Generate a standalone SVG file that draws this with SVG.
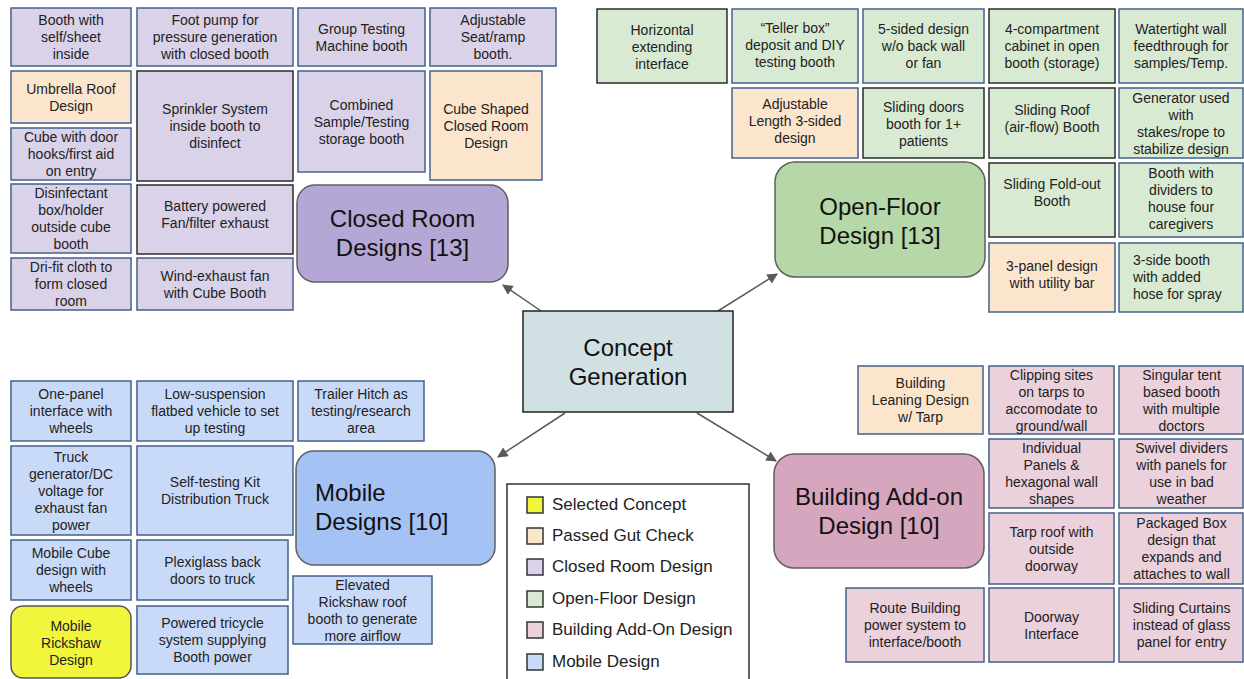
<svg xmlns="http://www.w3.org/2000/svg" width="1244" height="679" viewBox="0 0 1244 679">
<defs>
<style>
text{font-family:"Liberation Sans",Arial,sans-serif;fill:#222;}
.t{font-size:14px;text-anchor:middle;}
.tl{font-size:14px;text-anchor:start;}
.big{font-size:24px;text-anchor:middle;fill:#111;}
.bigl{font-size:24px;text-anchor:start;fill:#111;}
.lg{font-size:17px;fill:#222;}
rect{stroke-width:1.5;}
.b{stroke:#43608f;}
.d{stroke:#2b2b2b;}
.cr{fill:#d9d2e9;}
.of{fill:#d9ead3;}
.mb{fill:#c9daf8;}
.ba{fill:#ead1dc;}
.pk{fill:#fce5cd;}
.yl{fill:#f1f53c;}
.cat{stroke:#5f5f5f;}
.conn{stroke:#595959;stroke-width:1.5;fill:none;marker-end:url(#ah);}
</style>
<marker id="ah" viewBox="0 0 10 10" refX="9" refY="5" markerWidth="8" markerHeight="7" orient="auto" markerUnits="strokeWidth">
<path d="M0,0 L10,5 L0,10 z" fill="#595959"/>
</marker>
</defs>
<rect width="1244" height="679" fill="#ffffff" stroke="none"/>

<g id="connectors">
<line class="conn" x1="541" y1="311" x2="503" y2="285"/>
<line class="conn" x1="718" y1="311" x2="777" y2="274"/>
<line class="conn" x1="565" y1="413" x2="498" y2="457"/>
<line class="conn" x1="697" y1="413" x2="776" y2="461"/>
</g>

<g id="concept-generation">
<rect x="523" y="311" width="210" height="101" fill="#d0e0e3" stroke="#222"/>
<text class="big"><tspan x="628" y="356">Concept</tspan><tspan x="628" y="385">Generation</tspan></text>
</g>

<!-- Closed room -->
<g id="closed-room-designs">
<rect x="297" y="185" width="211" height="97" rx="18" fill="#b4a7d6" class="cat"/>
<text class="big"><tspan x="402.5" y="227">Closed Room</tspan><tspan x="402.5" y="256">Designs [13]</tspan></text>
</g>
<g id="cr-booth-self"><rect x="11" y="8" width="120" height="58" class="cr b"/>
<text class="t"><tspan x="71" y="25">Booth with</tspan><tspan x="71" y="42">self/sheet</tspan><tspan x="71" y="59">inside</tspan></text></g>
<g id="cr-foot-pump"><rect x="137" y="8" width="156" height="58" class="cr b"/>
<text class="t"><tspan x="215" y="25">Foot pump for</tspan><tspan x="215" y="42">pressure generation</tspan><tspan x="215" y="59">with closed booth</tspan></text></g>
<g id="cr-group-testing"><rect x="298" y="8" width="127" height="58" class="cr b"/>
<text class="t"><tspan x="361.5" y="33.5">Group Testing</tspan><tspan x="361.5" y="50.5">Machine booth</tspan></text></g>
<g id="cr-adjustable-seat"><rect x="430" y="8" width="126" height="58" class="cr b"/>
<text class="t"><tspan x="493" y="25">Adjustable</tspan><tspan x="493" y="42">Seat/ramp</tspan><tspan x="493" y="59">booth.</tspan></text></g>
<g id="cr-umbrella"><rect x="11" y="71" width="120" height="52" class="pk b"/>
<text class="t"><tspan x="71" y="93.5">Umbrella Roof</tspan><tspan x="71" y="110.5">Design</tspan></text></g>
<g id="cr-sprinkler"><rect x="137" y="71" width="156" height="110" class="cr d"/>
<text class="t"><tspan x="215" y="114">Sprinkler System</tspan><tspan x="215" y="131">inside booth to</tspan><tspan x="215" y="148">disinfect</tspan></text></g>
<g id="cr-combined"><rect x="298" y="71" width="127" height="101" class="cr b"/>
<text class="t"><tspan x="361.5" y="109.5">Combined</tspan><tspan x="361.5" y="126.5">Sample/Testing</tspan><tspan x="361.5" y="143.5">storage booth</tspan></text></g>
<g id="cr-cube-shaped"><rect x="430" y="71" width="112" height="109" class="pk b"/>
<text class="t"><tspan x="486" y="113.5">Cube Shaped</tspan><tspan x="486" y="130.5">Closed Room</tspan><tspan x="486" y="147.5">Design</tspan></text></g>
<g id="cr-cube-door"><rect x="11" y="128" width="120" height="52" class="cr b"/>
<text class="t"><tspan x="71" y="142">Cube with door</tspan><tspan x="71" y="159">hooks/first aid</tspan><tspan x="71" y="176">on entry</tspan></text></g>
<g id="cr-disinfectant"><rect x="11" y="184" width="120" height="69" class="cr b"/>
<text class="t"><tspan x="71" y="198">Disinfectant</tspan><tspan x="71" y="215">box/holder</tspan><tspan x="71" y="232">outside cube</tspan><tspan x="71" y="249">booth</tspan></text></g>
<g id="cr-battery"><rect x="137" y="185" width="156" height="69" class="cr d"/>
<text class="t"><tspan x="215" y="211">Battery powered</tspan><tspan x="215" y="228">Fan/filter exhaust</tspan></text></g>
<g id="cr-drifit"><rect x="11" y="258" width="120" height="52" class="cr b"/>
<text class="t"><tspan x="71" y="272">Dri-fit cloth to</tspan><tspan x="71" y="289">form closed</tspan><tspan x="71" y="306">room</tspan></text></g>
<g id="cr-wind"><rect x="137" y="258" width="156" height="52" class="cr b"/>
<text class="t"><tspan x="215" y="280.5">Wind-exhaust fan</tspan><tspan x="215" y="297.5">with Cube Booth</tspan></text></g>

<!-- Open floor -->
<g id="open-floor-design">
<rect x="775" y="162" width="210" height="115" rx="20" fill="#b6d7a8" class="cat"/>
<text class="big"><tspan x="880" y="215">Open-Floor</tspan><tspan x="880" y="244">Design [13]</tspan></text>
</g>
<g id="of-horizontal"><rect x="597" y="9" width="130" height="74" class="of d"/>
<text class="t"><tspan x="662" y="35">Horizontal</tspan><tspan x="662" y="52">extending</tspan><tspan x="662" y="69">interface</tspan></text></g>
<g id="of-teller"><rect x="732" y="9" width="126" height="74" class="of b"/>
<text class="t"><tspan x="795" y="33">“Teller box”</tspan><tspan x="795" y="50">deposit and DIY</tspan><tspan x="795" y="67">testing booth</tspan></text></g>
<g id="of-5sided"><rect x="863" y="9" width="121" height="74" class="of b"/>
<text class="t"><tspan x="923.5" y="34">5-sided design</tspan><tspan x="923.5" y="51">w/o back wall</tspan><tspan x="923.5" y="68">or fan</tspan></text></g>
<g id="of-4comp"><rect x="989" y="9" width="126" height="74" class="of d"/>
<text class="t"><tspan x="1052" y="34">4-compartment</tspan><tspan x="1052" y="51">cabinet in open</tspan><tspan x="1052" y="68">booth (storage)</tspan></text></g>
<g id="of-watertight"><rect x="1119" y="9" width="124" height="74" class="of b"/>
<text class="t"><tspan x="1181" y="34">Watertight wall</tspan><tspan x="1181" y="51">feedthrough for</tspan><tspan x="1181" y="68">samples/Temp.</tspan></text></g>
<g id="of-adj-length"><rect x="732" y="88" width="126" height="70" class="pk b"/>
<text class="t"><tspan x="795" y="109">Adjustable</tspan><tspan x="795" y="126">Length 3-sided</tspan><tspan x="795" y="143">design</tspan></text></g>
<g id="of-sliding-doors"><rect x="863" y="88" width="121" height="70" class="of d"/>
<text class="t"><tspan x="923.5" y="112">Sliding doors</tspan><tspan x="923.5" y="129">booth for 1+</tspan><tspan x="923.5" y="146">patients</tspan></text></g>
<g id="of-sliding-roof"><rect x="989" y="88" width="126" height="70" class="of d"/>
<text class="t"><tspan x="1052" y="115">Sliding Roof</tspan><tspan x="1052" y="132">(air-flow) Booth</tspan></text></g>
<g id="of-generator"><rect x="1119" y="88" width="124" height="70" class="of b"/>
<text class="t"><tspan x="1181" y="102.5">Generator used</tspan><tspan x="1181" y="119.5">with</tspan><tspan x="1181" y="136.5">stakes/rope to</tspan><tspan x="1181" y="153.5">stabilize design</tspan></text></g>
<g id="of-foldout"><rect x="989" y="163" width="126" height="74" class="of d"/>
<text class="t"><tspan x="1052" y="189">Sliding Fold-out</tspan><tspan x="1052" y="206">Booth</tspan></text></g>
<g id="of-dividers"><rect x="1119" y="163" width="124" height="74" class="of b"/>
<text class="t"><tspan x="1181" y="178">Booth with</tspan><tspan x="1181" y="195">dividers to</tspan><tspan x="1181" y="212">house four</tspan><tspan x="1181" y="229">caregivers</tspan></text></g>
<g id="of-3panel"><rect x="989" y="243" width="126" height="69" class="pk b"/>
<text class="t"><tspan x="1052" y="271">3-panel design</tspan><tspan x="1052" y="288">with utility bar</tspan></text></g>
<g id="of-3side"><rect x="1119" y="243" width="124" height="69" class="of b"/>
<text class="tl"><tspan x="1133" y="265">3-side booth</tspan><tspan x="1133" y="282">with added</tspan><tspan x="1133" y="299">hose for spray</tspan></text></g>

<!-- Mobile -->
<g id="mobile-designs">
<rect x="296" y="451" width="199" height="114" rx="18" fill="#a4c2f4" class="cat"/>
<text class="bigl"><tspan x="315" y="501">Mobile</tspan><tspan x="315" y="530">Designs [10]</tspan></text>
</g>
<g id="mb-one-panel"><rect x="11" y="381" width="120" height="60" class="mb b"/>
<text class="t"><tspan x="71" y="399">One-panel</tspan><tspan x="71" y="416">interface with</tspan><tspan x="71" y="433">wheels</tspan></text></g>
<g id="mb-low-susp"><rect x="137" y="381" width="156" height="60" class="mb b"/>
<text class="t"><tspan x="215" y="399">Low-suspension</tspan><tspan x="215" y="416">flatbed vehicle to set</tspan><tspan x="215" y="433">up testing</tspan></text></g>
<g id="mb-trailer"><rect x="298" y="381" width="126" height="60" class="mb b"/>
<text class="t"><tspan x="361" y="399">Trailer Hitch as</tspan><tspan x="361" y="416">testing/research</tspan><tspan x="361" y="433">area</tspan></text></g>
<g id="mb-truck-gen"><rect x="11" y="446" width="120" height="89" class="mb b"/>
<text class="t"><tspan x="71" y="461.5">Truck</tspan><tspan x="71" y="478.5">generator/DC</tspan><tspan x="71" y="495.5">voltage for</tspan><tspan x="71" y="512.5">exhaust fan</tspan><tspan x="71" y="529.5">power</tspan></text></g>
<g id="mb-self-test"><rect x="137" y="446" width="156" height="89" class="mb b"/>
<text class="t"><tspan x="215" y="487">Self-testing Kit</tspan><tspan x="215" y="504">Distribution Truck</tspan></text></g>
<g id="mb-mobile-cube"><rect x="11" y="540" width="120" height="60" class="mb b"/>
<text class="t"><tspan x="71" y="558">Mobile Cube</tspan><tspan x="71" y="575">design with</tspan><tspan x="71" y="592">wheels</tspan></text></g>
<g id="mb-plexi"><rect x="137" y="540" width="151" height="60" class="mb b"/>
<text class="t"><tspan x="212.5" y="566.5">Plexiglass back</tspan><tspan x="212.5" y="583.5">doors to truck</tspan></text></g>
<g id="mb-elevated"><rect x="293" y="576" width="139" height="68" class="mb b"/>
<text class="t"><tspan x="362.5" y="589.5">Elevated</tspan><tspan x="362.5" y="606.5">Rickshaw roof</tspan><tspan x="362.5" y="623.5">booth to generate</tspan><tspan x="362.5" y="640.5">more airflow</tspan></text></g>
<g id="mb-rickshaw"><rect x="11" y="606" width="120" height="72" rx="12" class="yl" stroke="#555"/>
<text class="t"><tspan x="71" y="630.5">Mobile</tspan><tspan x="71" y="647.5">Rickshaw</tspan><tspan x="71" y="664.5">Design</tspan></text></g>
<g id="mb-tricycle"><rect x="137" y="606" width="151" height="68" class="mb b"/>
<text class="t"><tspan x="212.5" y="628">Powered tricycle</tspan><tspan x="212.5" y="645">system supplying</tspan><tspan x="212.5" y="662">Booth power</tspan></text></g>

<!-- Building add-on -->
<g id="building-addon-design">
<rect x="774" y="454" width="210" height="114" rx="20" fill="#d5a6bd" class="cat"/>
<text class="big"><tspan x="879" y="505">Building Add-on</tspan><tspan x="879" y="534">Design [10]</tspan></text>
</g>
<g id="ba-leaning"><rect x="858" y="366" width="125" height="68" class="pk b"/>
<text class="t"><tspan x="920.5" y="388">Building</tspan><tspan x="920.5" y="405">Leaning Design</tspan><tspan x="920.5" y="422">w/ Tarp</tspan></text></g>
<g id="ba-clipping"><rect x="989" y="366" width="125" height="68" class="ba b"/>
<text class="t"><tspan x="1051.5" y="380">Clipping sites</tspan><tspan x="1051.5" y="397">on tarps to</tspan><tspan x="1051.5" y="414">accomodate to</tspan><tspan x="1051.5" y="431">ground/wall</tspan></text></g>
<g id="ba-singular"><rect x="1119" y="366" width="124" height="68" class="ba b"/>
<text class="t"><tspan x="1181.5" y="380">Singular tent</tspan><tspan x="1181.5" y="397">based booth</tspan><tspan x="1181.5" y="414">with multiple</tspan><tspan x="1181.5" y="431">doctors</tspan></text></g>
<g id="ba-individual"><rect x="989" y="439" width="125" height="69" class="ba b"/>
<text class="t"><tspan x="1051.5" y="453">Individual</tspan><tspan x="1051.5" y="470">Panels &amp;</tspan><tspan x="1051.5" y="487">hexagonal wall</tspan><tspan x="1051.5" y="504">shapes</tspan></text></g>
<g id="ba-swivel"><rect x="1119" y="439" width="124" height="69" class="ba b"/>
<text class="t"><tspan x="1181.5" y="453">Swivel dividers</tspan><tspan x="1181.5" y="470">with panels for</tspan><tspan x="1181.5" y="487">use in bad</tspan><tspan x="1181.5" y="504">weather</tspan></text></g>
<g id="ba-tarp-roof"><rect x="989" y="513" width="125" height="71" class="ba b"/>
<text class="t"><tspan x="1051.5" y="536.5">Tarp roof with</tspan><tspan x="1051.5" y="553.5">outside</tspan><tspan x="1051.5" y="570.5">doorway</tspan></text></g>
<g id="ba-packaged"><rect x="1119" y="513" width="124" height="71" class="ba b"/>
<text class="t"><tspan x="1181.5" y="528">Packaged Box</tspan><tspan x="1181.5" y="545">design that</tspan><tspan x="1181.5" y="562">expands and</tspan><tspan x="1181.5" y="579">attaches to wall</tspan></text></g>
<g id="ba-route"><rect x="846" y="588" width="138" height="74" class="ba b"/>
<text class="t"><tspan x="915" y="613">Route Building</tspan><tspan x="915" y="630">power system to</tspan><tspan x="915" y="647">interface/booth</tspan></text></g>
<g id="ba-doorway"><rect x="989" y="588" width="125" height="74" class="ba b"/>
<text class="t"><tspan x="1051.5" y="621.5">Doorway</tspan><tspan x="1051.5" y="638.5">Interface</tspan></text></g>
<g id="ba-curtains"><rect x="1119" y="588" width="124" height="74" class="ba b"/>
<text class="t"><tspan x="1181.5" y="613">Sliding Curtains</tspan><tspan x="1181.5" y="630">instead of glass</tspan><tspan x="1181.5" y="647">panel for entry</tspan></text></g>

<!-- Legend -->
<g id="legend">
<rect x="507" y="484" width="242" height="200" fill="#ffffff" stroke="#333"/>
<rect x="527" y="497" width="16" height="16" class="yl" stroke="#333"/>
<text class="lg" x="552" y="510">Selected Concept</text>
<rect x="527" y="528" width="16" height="16" class="pk" stroke="#333"/>
<text class="lg" x="552" y="541">Passed Gut Check</text>
<rect x="527" y="559" width="16" height="16" class="cr" stroke="#333"/>
<text class="lg" x="552" y="572">Closed Room Design</text>
<rect x="527" y="591" width="16" height="16" class="of" stroke="#333"/>
<text class="lg" x="552" y="604">Open-Floor Design</text>
<rect x="527" y="622" width="16" height="16" class="ba" stroke="#333"/>
<text class="lg" x="552" y="635">Building Add-On Design</text>
<rect x="527" y="654" width="16" height="16" class="mb" stroke="#333"/>
<text class="lg" x="552" y="667">Mobile Design</text>
</g>
</svg>
